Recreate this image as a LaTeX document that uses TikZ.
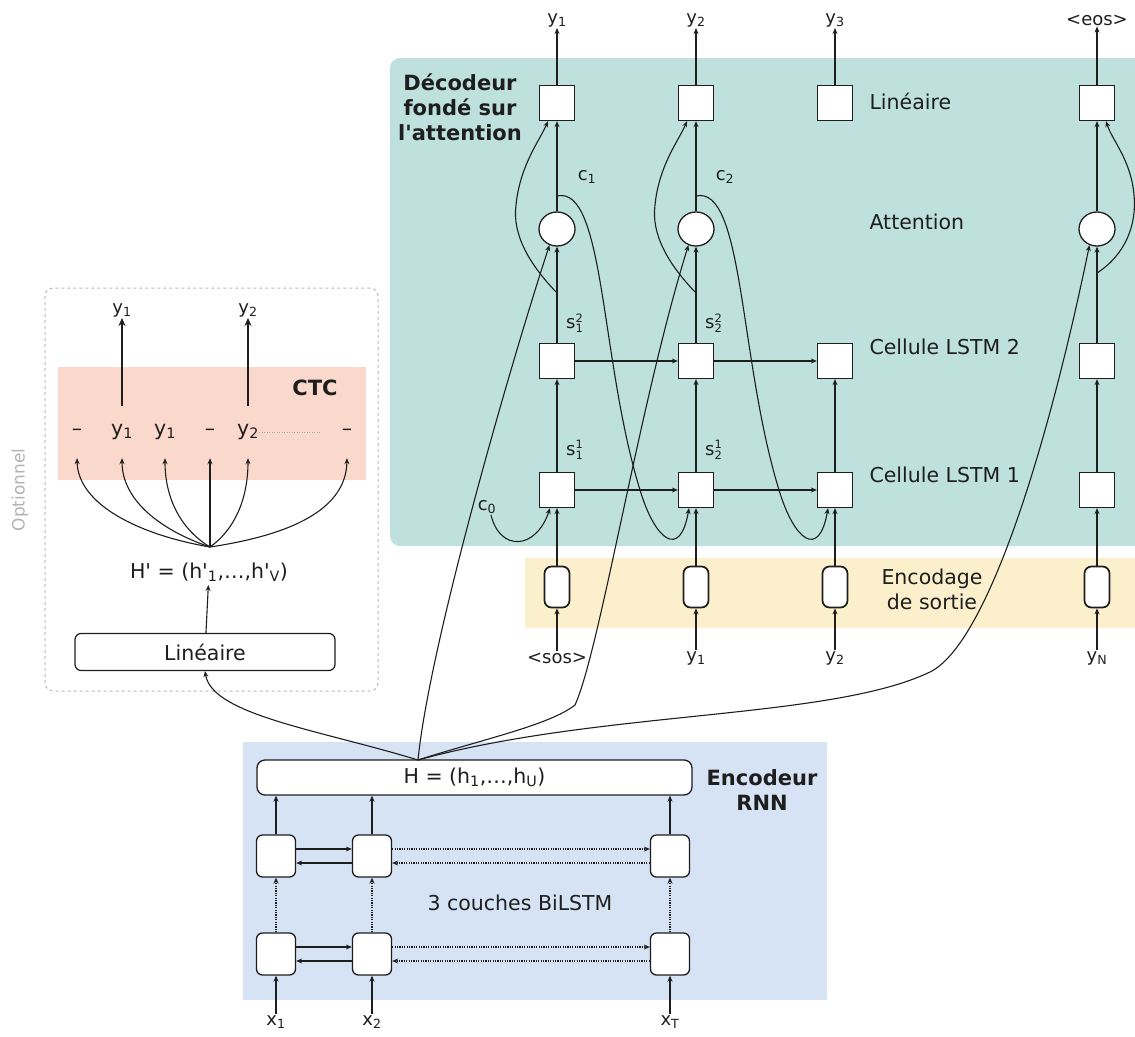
\documentclass[tikz,border=0pt]{standalone}
\usepackage{fontspec}
\setmainfont{DejaVu Sans}[Ligatures=TeXOff]
\usetikzlibrary{arrows.meta,shapes.geometric,calc}
\definecolor{tealbg}{RGB}{190,225,221}
\definecolor{yellowbg}{RGB}{252,239,204}
\definecolor{pinkbg}{RGB}{250,216,204}
\definecolor{bluebg}{RGB}{213,227,245}
\definecolor{ink}{RGB}{30,30,30}
\newcommand\apos{'}
\newcommand\ssup[2]{s$^{\mbox{\fontsize{11.5}{11.5}\selectfont #1}}_{\mbox{\fontsize{11.5}{11.5}\selectfont #2}}$}
\newcommand\sbs[1]{\textsubscript{#1}}
\begin{document}
\begin{tikzpicture}[x=1pt,y=-1pt,
  arr/.style={line width=1.1pt, draw=ink, -{Stealth[length=6pt,width=5pt]}},
  tarr/.style={line width=2pt, draw=ink, -{Stealth[length=8pt,width=7pt]}},
  dotarr/.style={arr, dash pattern=on 1.2pt off 1.2pt},
  sqb/.style={draw=ink, line width=1.3pt, fill=white, minimum width=35pt, minimum height=35pt, inner sep=0pt},
  attn/.style={ellipse, draw=ink, line width=1.3pt, fill=white, minimum width=36pt, minimum height=34pt, inner sep=0pt},
  encb/.style={draw=ink, line width=1.7pt, rounded corners=7pt, fill=white, minimum width=25pt, minimum height=41pt, inner sep=0pt},
  cell/.style={draw=ink, line width=1.3pt, rounded corners=6pt, fill=white, minimum width=39pt, minimum height=42pt, inner sep=0pt},
  lbl/.style={font=\fontsize{18}{21}\selectfont, text=ink, inner sep=1pt},
  big/.style={font=\fontsize{20.5}{25}\selectfont, text=ink},
  bld/.style={font=\fontsize{21}{25}\selectfont\bfseries, text=ink},
  ctci/.style={big, minimum height=52pt, inner sep=0pt}
]
\useasboundingbox (0,0) rectangle (1135,1036);

% backgrounds
\fill[tealbg, rounded corners=10pt] (390,58) rectangle (1160,546);
\fill[yellowbg] (525,558) rectangle (1160,628);
\fill[pinkbg] (58,367) rectangle (366,480);
\fill[bluebg] (243,742) rectangle (827,1000);
\draw[gray!55, dashed, line width=1pt, rounded corners=8pt] (45,288) rectangle (378,691);
\node[rotate=90, text=gray!60, font=\fontsize{17}{20}\selectfont] (opt) at (20,490) {Optionnel};

% ---------------- decoder ----------------
\foreach \n/\x in {1/557,2/696,3/835,4/1097}{
  \node[sqb] (L\n) at (\x,103) {};
  \node[sqb] (P\n) at (\x,361) {};
  \node[sqb] (Q\n) at (\x,490) {};
  \node[encb] (E\n) at (\x,587) {};
}
\node[attn] (A1) at (557,229) {};
\node[attn] (A2) at (696,229) {};
\node[attn] (A4) at (1097,229) {};

\node[lbl] (O1) at (557,20) {y\sbs{1}};
\node[lbl] (O2) at (696,20) {y\sbs{2}};
\node[lbl] (O3) at (835,20) {y\sbs{3}};
\node[lbl] (O4) at (1097,20) {<eos>};
\node[lbl] (I1) at (557,658) {<sos>};
\node[lbl] (I2) at (696,658) {y\sbs{1}};
\node[lbl] (I3) at (835,658) {y\sbs{2}};
\node[lbl] (I4) at (1097,658) {y\sbs{N}};

\node[bld, align=center] (dtitle) at (460,107) {Décodeur\\fondé sur\\l\apos attention};
\node[big, anchor=west] (tlin) at (866,101) {Linéaire};
\node[big, anchor=west] (tatt) at (866,222) {Attention};
\node[big, anchor=west] (tl2) at (866,347) {Cellule LSTM 2};
\node[big, anchor=west] (tl1) at (866,475) {Cellule LSTM 1};
\node[big, align=center] (tenc) at (932,589) {Encodage\\de sortie};

\node[lbl] (c1) at (587,177) {c\sbs{1}};
\node[lbl] (c2) at (725,177) {c\sbs{2}};
\node[lbl] (c0) at (487,507) {c\sbs{0}};
\node[lbl, anchor=west] (s12) at (565,323) {\ssup{2}{1}};
\node[lbl, anchor=west] (s11) at (565,450) {\ssup{1}{1}};
\node[lbl, anchor=west] (s22) at (704,323) {\ssup{2}{2}};
\node[lbl, anchor=west] (s21) at (704,450) {\ssup{1}{2}};

% vertical flows
\foreach \n in {1,2,3,4}{
  \draw[arr] (I\n) -- (E\n);
  \draw[arr] (E\n) -- (Q\n);
  \draw[arr] (Q\n) -- (P\n);
  \draw[arr] (L\n) -- (O\n);
}
\foreach \n in {1,2,4}{
  \draw[arr] (P\n) -- (A\n);
  \draw[arr] (A\n) -- (L\n);
}
% horizontal
\draw[arr] (Q1) -- (Q2);
\draw[arr] (Q2) -- (Q3);
\draw[arr] (P1) -- (P2);
\draw[arr] (P2) -- (P3);

% state loops to linear layer
\coordinate (b1) at (557,293);
\coordinate (b2) at (696,293);
\coordinate (b4) at (1097,273);
\draw[arr] (b1) .. controls (530,265) and (512,235) .. (516,205) .. controls (520,165) and (540,140) .. ([xshift=-9pt]L1.south);
\draw[arr] (b2) .. controls (669,265) and (651,235) .. (655,205) .. controls (659,165) and (679,140) .. ([xshift=-9pt]L2.south);
\draw[arr] (b4) .. controls (1125,255) and (1137,225) .. (1134,195) .. controls (1131,160) and (1112,140) .. ([xshift=9pt]L4.south);

% context vectors
\coordinate (cb1) at (557,196);
\coordinate (cb2) at (696,196);
\draw[arr] (cb1) .. controls (605,185) and (600,360) .. (640,490) .. controls (655,540) and (680,560) .. ([xshift=-7pt]Q2.south);
\draw[arr] (cb2) .. controls (744,185) and (739,360) .. (779,490) .. controls (794,540) and (819,560) .. ([xshift=-7pt]Q3.south);
\draw[arr] ([xshift=4pt]c0.south) .. controls (500,552) and (536,550) .. ([xshift=-7pt]Q1.south);

% ---------------- encoder ----------------
\node[draw=ink, line width=1.3pt, rounded corners=8pt, fill=white, minimum width=435pt, minimum height=35pt, big] (H) at (474.5,777.5) {H = (h\sbs{1},…,h\sbs{U})\hspace{28pt}};
\node[bld, align=center] (encl) at (762,790) {Encodeur\\RNN};
\node[big] (bil) at (520,903) {3 couches BiLSTM};

\node[cell] (U1) at (276,856) {};
\node[cell] (U2) at (372,856) {};
\node[cell] (UT) at (670,856) {};
\node[cell] (D1) at (276,954) {};
\node[cell] (D2) at (372,954) {};
\node[cell] (DT) at (670,954) {};
\node[lbl] (X1) at (276,1022) {x\sbs{1}};
\node[lbl] (X2) at (372,1022) {x\sbs{2}};
\node[lbl] (XT) at (670,1022) {x\sbs{T}};

\foreach \c in {1,2,T}{
  \draw[arr] (X\c) -- (D\c);
  \draw[dotarr] (D\c) -- (U\c);
  \draw[arr] (U\c) -- (U\c |- H.south);
}
\foreach \r in {U,D}{
  \draw[arr] ([yshift=7pt]\r1.east) -- ([yshift=7pt]\r2.west);
  \draw[arr] ([yshift=-7pt]\r2.west) -- ([yshift=-7pt]\r1.east);
  \draw[dotarr] ([yshift=7pt]\r2.east) -- ([yshift=7pt]\r T.west);
  \draw[dotarr] ([yshift=-7pt]\r T.west) -- ([yshift=-7pt]\r2.east);
}

% ---------------- CTC ----------------
\node[draw=ink, line width=1.2pt, rounded corners=6pt, fill=white, minimum width=260pt, minimum height=37pt, big] (LinC) at (205,652) {Linéaire};
\node[big] (Hp) at (209,572) {H\apos{} = (h\apos\sbs{1},…,h\apos\sbs{V})};
\node[bld] (ctc) at (315,388) {CTC};
\node[ctci] (t1) at (77,432) {–};
\node[ctci] (t2) at (122,432) {y\sbs{1}};
\node[ctci] (t3) at (165,432) {y\sbs{1}};
\node[ctci] (t4) at (210,432) {–};
\node[ctci] (t5) at (248,432) {y\sbs{2}};
\node[ctci] (t6) at (347,432) {–};
\node[lbl] (Y1) at (122,310) {y\sbs{1}};
\node[lbl] (Y2) at (248,310) {y\sbs{2}};
\draw[gray!70, line width=0.9pt, dash pattern=on 1pt off 1.5pt] (t5.east) -- (320,432);
\draw[tarr] (t2) -- (Y1);
\draw[tarr] (t5) -- (Y2);
\draw[arr] (LinC) -- (Hp);
\coordinate (fp) at (210,547);
\draw[arr] (fp) .. controls (140,535) and (78,505) .. (t1.south);
\draw[arr] (fp) .. controls (160,530) and (122,500) .. (t2.south);
\draw[arr] (fp) .. controls (182,530) and (165,500) .. (t3.south);
\draw[arr] (fp) -- (t4.south);
\draw[arr] (fp) .. controls (234,530) and (248,500) .. (t5.south);
\draw[arr] (fp) .. controls (290,535) and (346,510) .. (t6.south);

% ---------------- fan from H ----------------
\coordinate (hf) at (418,760);
\draw[arr] (hf) .. controls (320,730) and (212,715) .. (LinC.south);
\draw[arr] (hf) .. controls (430,640) and (515,350) .. (A1.245);
\draw[arr] (hf) .. controls (480,740) and (550,725) .. (575,705) .. controls (600,650) and (640,400) .. (A2.245);
\draw[arr] (hf) .. controls (600,710) and (830,720) .. (930,672) .. controls (985,645) and (1045,460) .. (A4.245);
\end{tikzpicture}
\end{document}
